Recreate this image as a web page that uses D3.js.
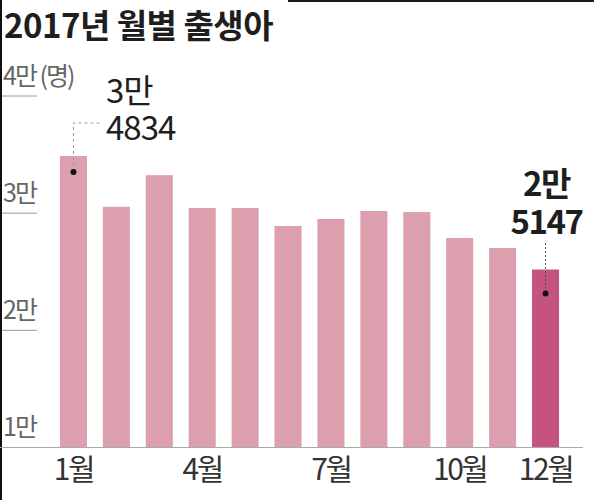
<!DOCTYPE html>
<html>
<head>
<meta charset="utf-8">
<script src="https://cdn.jsdelivr.net/npm/d3@7"></script>
<style>
  body { margin: 0; background: #fff; }
  svg { display: block; font-family: "Noto Sans CJK KR", "Noto Sans", sans-serif; }
</style>
</head>
<body>
<svg width="594" height="500"></svg>
<script>
var months     = ['1월','2월','3월','4월','5월','6월','7월','8월','9월','10월','11월','12월'];
var births     = [34834, 30500, 33200, 30400, 30400, 28860, 29460, 30140, 30050, 27840, 26980, 25147];
var yTicks     = [10000, 20000, 30000, 40000];
var yTickText  = ['1만', '2만', '3만', '4만 (명)'];
var xShown     = ['1월', '4월', '7월', '10월', '12월'];

function drawChart() {
  var svg = d3.select('svg');

  var x = d3.scaleBand()
            .domain(months)
            .range([52, 567])
            .paddingInner(0.37)
            .paddingOuter(0.185);

  var y = d3.scaleLinear()
            .domain([10000, 40000])
            .range([447, 95.5]);

  // frame edges from the scan
  svg.append('rect').attr('x', 0).attr('y', 0).attr('width', 2).attr('height', 500).style('fill', '#111');
  svg.append('rect').attr('x', 288).attr('y', 0).attr('width', 306).attr('height', 2).style('fill', '#1a1a1a');

  svg.append('text')
     .attr('x', 4).attr('y', 38)
     .style('font-size', '33px').style('font-weight', 'bold').style('fill', '#1e1e1e')
     .style('letter-spacing', '-0.5px')
     .text('2017년 월별 출생아');

  // short gridlines + labels on the left
  var yAxis = d3.axisLeft(y).tickValues(yTicks.slice(1)).tickSize(-35).tickFormat('');
  var ga = svg.append('g').attr('transform', 'translate(2,0)').call(yAxis);
  ga.select('.domain').remove();
  ga.selectAll('line').style('stroke', '#9a9a9a');

  svg.selectAll('.ylab')
     .data(yTicks)
     .enter()
     .append('text')
     .attr('class', 'ylab')
     .attr('x', 3)
     .attr('y', function(d) { return y(d) - 11; })
     .style('font-size', '25px').style('fill', '#666')
     .style('letter-spacing', '-2px')
     .text(function(d, i) { return yTickText[i]; });

  svg.selectAll('rect.bar')
     .data(births)
     .enter()
     .append('rect')
     .attr('class', 'bar')
     .attr('x', function(d, i) { return x(months[i]); })
     .attr('width', x.bandwidth())
     .attr('y', function(d) { return y(d); })
     .attr('height', function(d) { return y(10000) - y(d); })
     .style('fill', function(d, i) { return i == 11 ? '#c4547d' : '#dc9fae'; });

  var xAxis = d3.axisBottom(x).tickSize(0).tickFormat(function(d) { return xShown.indexOf(d) >= 0 ? d : ''; });
  var gx = svg.append('g').attr('transform', 'translate(0,' + y(10000) + ')').call(xAxis);
  gx.select('.domain').attr('d', 'M0,0.5H583').style('stroke', '#aaa');
  gx.selectAll('text')
    .attr('dy', 0).attr('y', 33)
    .style('font-size', '30px').style('fill', '#333')
    .style('font-family', '"Noto Sans CJK KR", sans-serif')
    .style('letter-spacing', '-2.5px');

  // january callout
  var jx = x(months[0]) + x.bandwidth() / 2;
  var jy = y(births[0]) + 16;
  svg.append('path')
     .attr('d', 'M' + jx + ',' + (jy - 6) + 'V123H101')
     .style('fill', 'none').style('stroke', '#999').style('stroke-dasharray', '3,3');
  svg.append('circle').attr('cx', jx).attr('cy', jy).attr('r', 3).style('fill', '#111');
  svg.append('text').attr('x', 106).attr('y', 103)
     .style('font-size', '33px').style('fill', '#1e1e1e').style('letter-spacing', '-1px').text('3만');
  svg.append('text').attr('x', 106).attr('y', 140)
     .style('font-size', '33px').style('fill', '#1e1e1e').style('letter-spacing', '-1px').text('4834');

  // december callout
  var dx = x(months[11]) + x.bandwidth() / 2;
  var dy = y(births[11]) + 24;
  svg.append('path')
     .attr('d', 'M' + dx + ',243V' + (dy - 5))
     .style('fill', 'none').style('stroke', '#555').style('stroke-dasharray', '2,2');
  svg.append('circle').attr('cx', dx).attr('cy', dy).attr('r', 3).style('fill', '#111');
  svg.append('text').attr('x', dx + 1).attr('y', 196).attr('text-anchor', 'middle')
     .style('font-size', '33px').style('font-weight', 'bold').style('fill', '#1e1e1e').style('letter-spacing', '-1.5px').text('2만');
  svg.append('text').attr('x', dx + 1).attr('y', 234).attr('text-anchor', 'middle')
     .style('font-size', '33px').style('font-weight', 'bold').style('fill', '#1e1e1e').style('letter-spacing', '-1.5px').text('5147');
}

window.onload = function() {
  drawChart();
};
</script>
</body>
</html>
